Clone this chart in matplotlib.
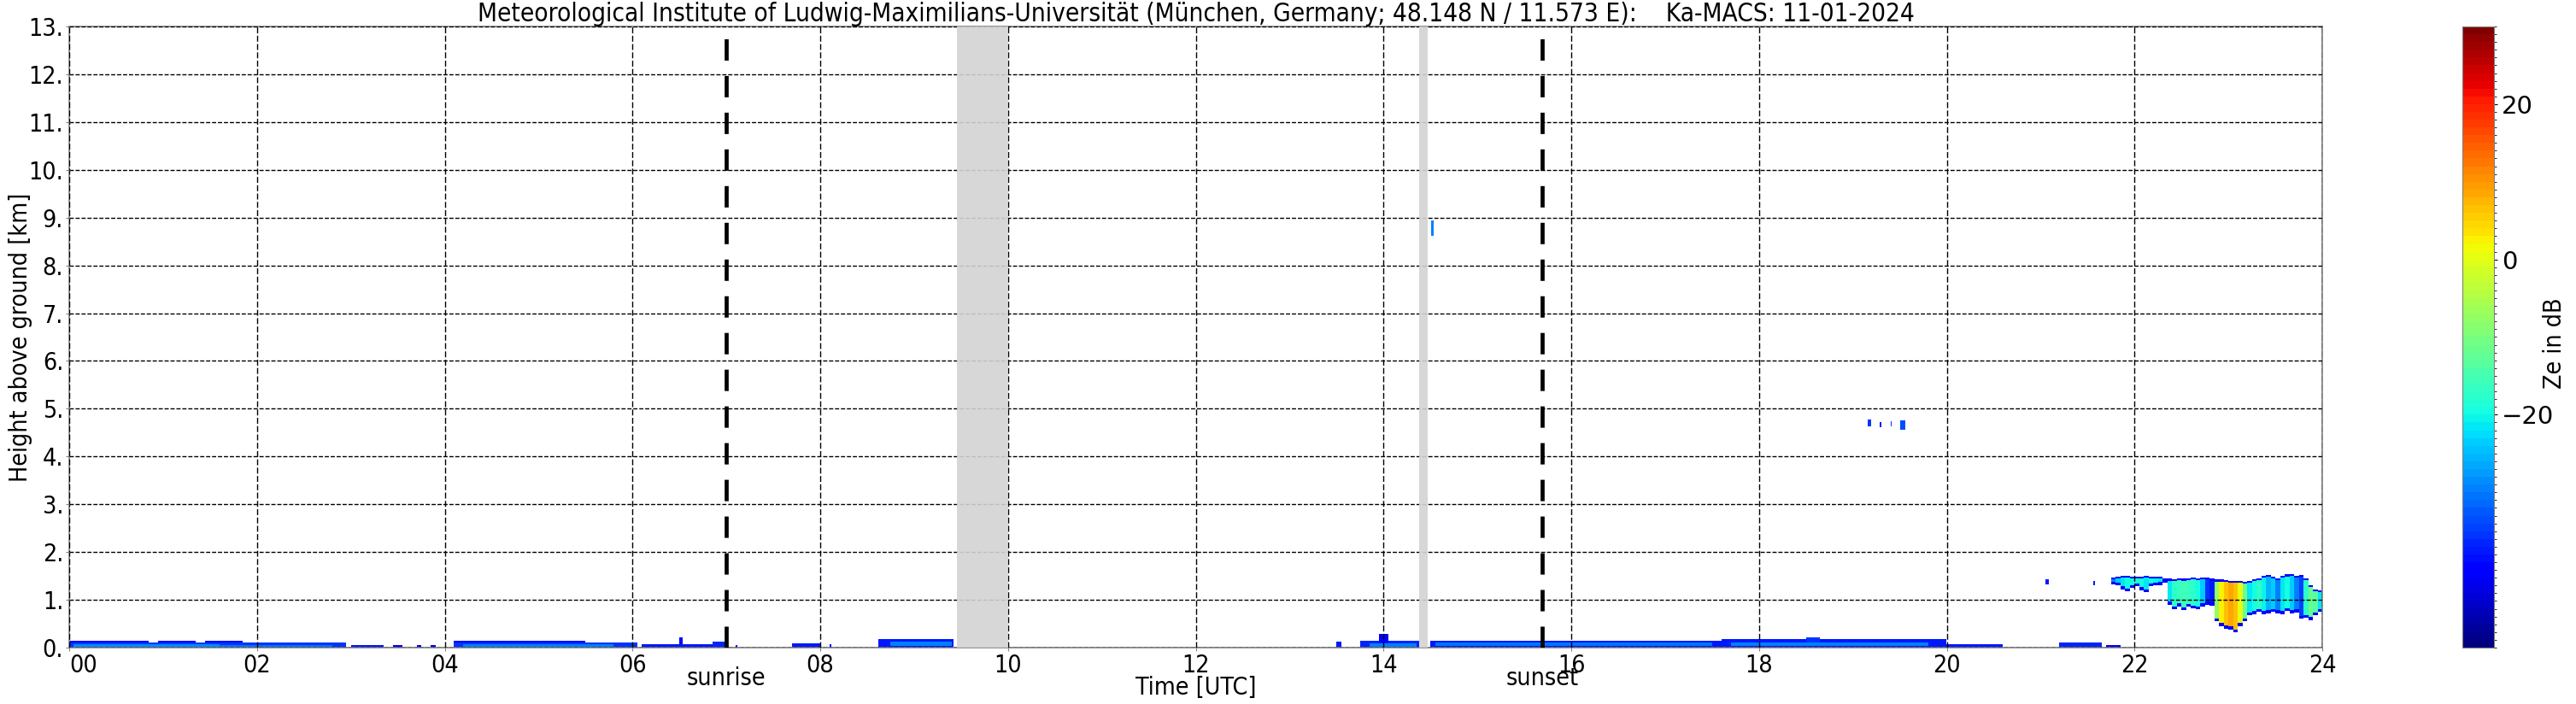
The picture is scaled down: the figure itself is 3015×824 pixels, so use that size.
import numpy as np
import matplotlib
matplotlib.use('Agg')
from matplotlib import pyplot as plt
from matplotlib import colors, transforms

plt.rcParams['font.family'] = 'DejaVu Sans'
plt.rcParams['font.stretch'] = 'condensed'

# small echo blocks: start/end in hours UTC, base/top in km, Ze in dB
# later blocks overwrite earlier ones
echo_start = [0.00, 0.95, 1.45, 0.00, 0.05, 1.60, 3.00, 3.45, 3.70, 3.85,
              4.10, 4.10, 4.20, 6.10, 6.50, 6.85, 7.10, 7.70, 8.10, 8.62,
              8.75, 13.50, 13.75, 13.95, 13.85, 14.50, 14.55, 17.60, 17.70, 18.50,
              20.00, 21.20, 21.70,
              14.51, 19.16, 19.28, 19.40, 19.50, 21.05, 21.56]
echo_end = [0.85, 1.35, 1.85, 2.95, 1.60, 2.80, 3.35, 3.55, 3.75, 3.90,
            5.50, 6.05, 5.80, 6.95, 6.53, 7.00, 7.12, 8.00, 8.12, 9.42,
            9.40, 13.55, 14.38, 14.05, 14.35, 17.60, 17.50, 20.00, 19.80, 18.65,
            20.60, 21.65, 21.85,
            14.53, 19.19, 19.30, 19.42, 19.56, 21.08, 21.58]
echo_base = [0.00, 0.00, 0.00, 0.00, 0.02, 0.02, 0.00, 0.00, 0.00, 0.00,
             0.00, 0.00, 0.02, 0.00, 0.07, 0.00, 0.00, 0.00, 0.00, 0.00,
             0.03, 0.00, 0.00, 0.10, 0.02, 0.00, 0.03, 0.00, 0.03, 0.10,
             0.00, 0.00, 0.00,
             8.60, 4.62, 4.60, 4.62, 4.55, 1.33, 1.30]
echo_top = [0.14, 0.14, 0.14, 0.10, 0.07, 0.05, 0.05, 0.05, 0.05, 0.05,
            0.14, 0.11, 0.07, 0.07, 0.22, 0.13, 0.05, 0.09, 0.07, 0.17,
            0.12, 0.12, 0.15, 0.28, 0.09, 0.15, 0.10, 0.18, 0.11, 0.22,
            0.08, 0.10, 0.05,
            8.92, 4.76, 4.72, 4.74, 4.75, 1.43, 1.40]
echo_ze = [-40, -40, -40, -36, -29, -31, -38, -40, -40, -40,
           -40, -36, -30, -38, -40, -37, -40, -38, -40, -38,
           -30, -38, -37, -40, -30, -38, -31, -38, -30, -36,
           -38, -37, -40,
           -30, -36, -38, -36, -34, -38, -38]

# low cloud after 21:45, one column every 3 min: base/top in km, inner Ze in dB
cloud_t = [21.75, 21.80, 21.85, 21.90, 21.95, 22.00, 22.05, 22.10, 22.15, 22.20,
           22.25, 22.30, 22.35, 22.40, 22.45, 22.50, 22.55, 22.60, 22.65, 22.70,
           22.75, 22.80, 22.85, 22.90, 22.95, 23.00, 23.05, 23.10, 23.15, 23.20,
           23.25, 23.30, 23.35, 23.40, 23.45, 23.50, 23.55, 23.60, 23.65, 23.70,
           23.75, 23.80, 23.85, 23.90, 23.95]
cloud_base = [1.32, 1.30, 1.22, 1.18, 1.25, 1.28, 1.20, 1.16, 1.28, 1.30,
              1.31, 1.35, 0.90, 0.80, 0.86, 0.78, 0.85, 0.82, 0.80, 0.86,
              0.90, 0.88, 0.55, 0.45, 0.40, 0.38, 0.32, 0.45, 0.55, 0.68,
              0.70, 0.75, 0.70, 0.72, 0.75, 0.72, 0.70, 0.76, 0.72, 0.74,
              0.60, 0.62, 0.58, 0.68, 0.75]
cloud_top = [1.47, 1.49, 1.50, 1.50, 1.49, 1.48, 1.49, 1.50, 1.48, 1.49,
             1.48, 1.45, 1.44, 1.43, 1.45, 1.44, 1.45, 1.46, 1.45, 1.47,
             1.46, 1.44, 1.42, 1.42, 1.41, 1.40, 1.40, 1.40, 1.38, 1.40,
             1.43, 1.45, 1.50, 1.52, 1.48, 1.45, 1.50, 1.53, 1.54, 1.50,
             1.52, 1.45, 1.30, 1.22, 1.20]
cloud_ze = [-30, -24, -22, -20, -20, -19, -20, -22, -20, -21,
            -22, -30, -22, -18, -17, -16, -17, -18, -20, -24,
            -36, -38, -8, 2, 6, 8, 6, 0, -12, -22,
            -20, -18, -21, -26, -24, -30, -22, -20, -24, -30,
            -35, -18, -12, -14, -22]

gap_start = [9.46, 14.38]
gap_end = [10.00, 14.47]
sunrise = 7.00
sunset = 15.69

x_ticks = list(range(0, 25, 2))
x_labels = ['%02d' % h for h in x_ticks]
y_ticks = list(range(0, 14))

# gridded field
dt = 1 / 120
dz = 0.01
t_mid = np.arange(0, 24, dt) + dt / 2
z_mid = np.arange(0, 13, dz) + dz / 2
ze = np.full((len(z_mid), len(t_mid)), np.nan)


def fill(t0, t1, z0, z1, v):
    it = (t_mid >= t0) & (t_mid < t1)
    iz = (z_mid >= z0) & (z_mid < z1)
    ze[np.ix_(iz, it)] = v


for t0, t1, z0, z1, v in zip(echo_start, echo_end, echo_base, echo_top, echo_ze):
    fill(t0, t1, z0, z1, v)

# cloud: dark blue rim, coloured inside
for t0, z0, z1, v in zip(cloud_t, cloud_base, cloud_top, cloud_ze):
    fill(t0, t0 + 0.05, z0, z1, -40)
    fill(t0, t0 + 0.05, z0 + 0.06, z1 - 0.04, v)

fs = 20.5
fig = plt.figure(figsize=(30.15, 8.24), dpi=100)
ax = fig.add_axes([0.0269, 0.0801, 0.8746, 0.8823])
cax = fig.add_axes([0.9559, 0.0801, 0.0123, 0.8823])

levels = np.arange(-50, 31, 1)
norm = colors.BoundaryNorm(levels, 256)
im = ax.imshow(np.ma.masked_invalid(ze), extent=[0, 24, 0, 13], origin='lower',
               aspect='auto', interpolation='nearest', cmap='jet', norm=norm, zorder=0)

for g0, g1 in zip(gap_start, gap_end):
    ax.axvspan(g0, g1, color='lightgray', alpha=0.9, lw=0, zorder=3)

for x in [sunrise, sunset]:
    ax.axvline(x, color='black', lw=3.4, linestyle=(0, (5.3, 3.8)), zorder=4)

ax.set_xlim(0, 24)
ax.set_ylim(0, 13)
ax.set_xticks(x_ticks)
ax.set_xticklabels(x_labels)
ax.set_yticks(y_ticks)
ax.set_yticklabels(['%d.' % y for y in y_ticks])
ax.tick_params(labelsize=fs, length=3, color='gray', pad=2)
ax.get_xticklabels()[0].set_horizontalalignment('left')

ax.grid(axis='x', color='black', lw=1.0, linestyle=(0, (5, 2)), zorder=2.5)
ax.grid(axis='y', color='black', lw=1.0, linestyle=(0, (3.5, 1.5)), zorder=2.5)
ax.set_axisbelow(False)
for s in ax.spines.values():
    s.set_color('gray')
    s.set_linewidth(1.2)

trans = transforms.blended_transform_factory(ax.transData, ax.transAxes)
ax.text(sunrise, -0.03, 'sunrise', transform=trans, ha='center', va='top', fontsize=fs)
ax.text(sunset, -0.03, 'sunset', transform=trans, ha='center', va='top', fontsize=fs)

ax.set_xlabel('Time [UTC]', fontsize=fs)
ax.xaxis.set_label_coords(0.5, -0.045)
ax.set_ylabel('Height above ground [km]', fontsize=fs)
ax.yaxis.set_label_coords(-0.0165, 0.5)
ax.set_title('Meteorological Institute of Ludwig-Maximilians-Universität (München, Germany; '
             '48.148 N / 11.573 E):    Ka-MACS: 11-01-2024', fontsize=21.3, pad=3)

cb = fig.colorbar(im, cax=cax, ticks=[-20, 0, 20])
cb.outline.set_edgecolor('gray')
cb.ax.tick_params(labelsize=21, length=3)
for lab in cb.ax.get_yticklabels():
    lab.set_fontstretch('normal')
fig.text(2990 / 3015, 0.512, 'Ze in dB', rotation=90, ha='center', va='center', fontsize=fs)

fig.savefig('out.png', dpi=100)
